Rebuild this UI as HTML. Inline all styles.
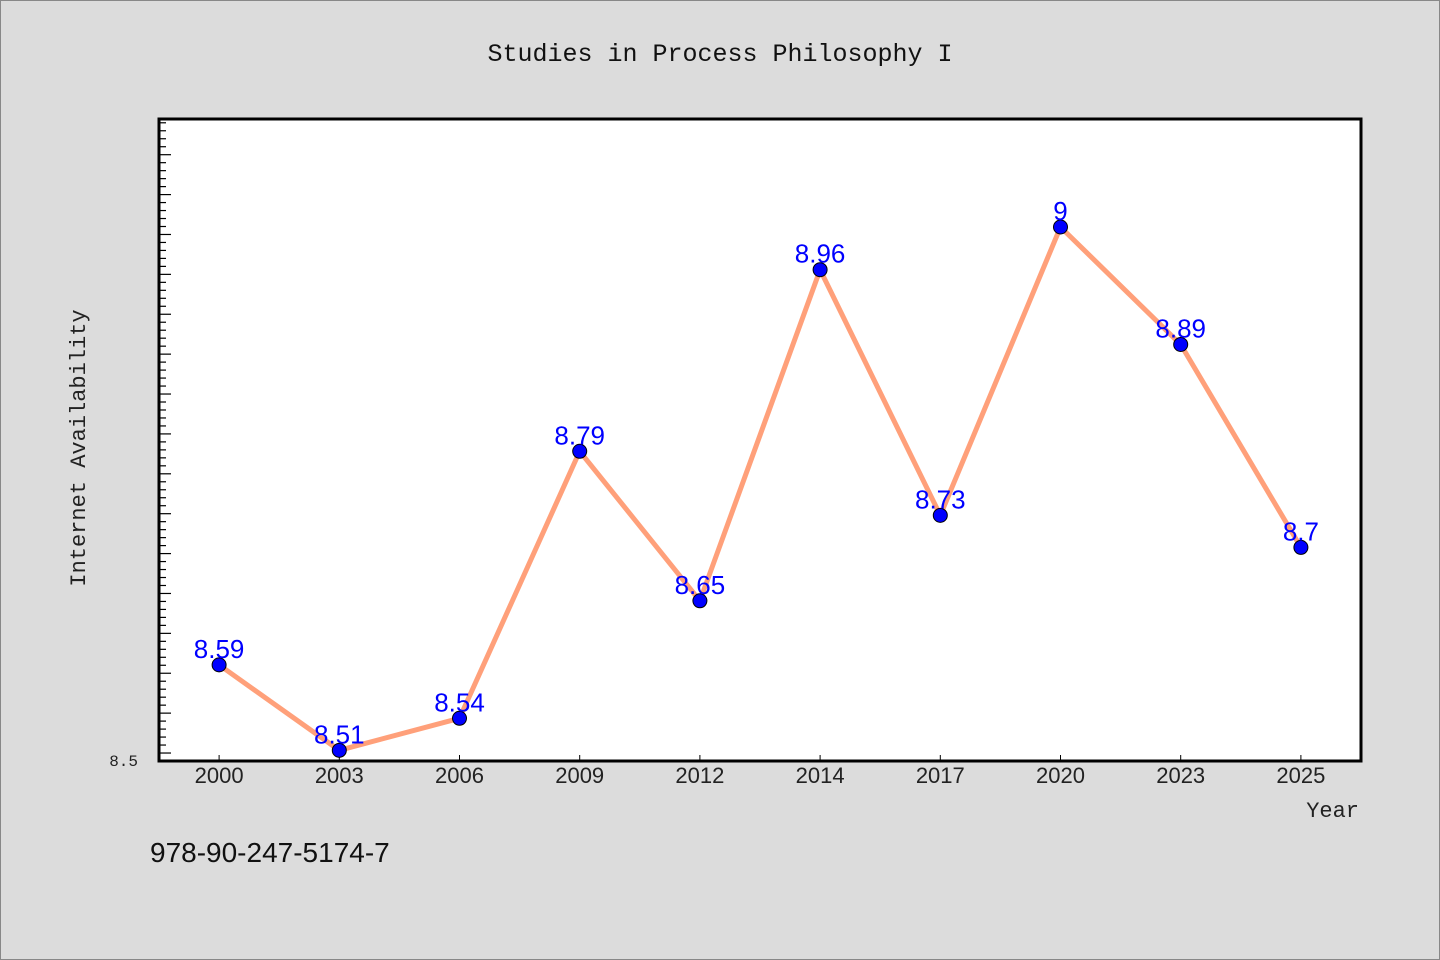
<!DOCTYPE html>
<html><head><meta charset="utf-8"><style>
html,body{margin:0;padding:0;background:#dcdcdc;}
svg{display:block;}
</style></head><body>
<svg width="1440" height="960" xmlns="http://www.w3.org/2000/svg">
<rect x="0.5" y="0.5" width="1439" height="959" fill="#dcdcdc" stroke="#888"/>
<text x="720" y="61" text-anchor="middle" font-family="Liberation Mono, monospace" font-size="25" fill="#111">Studies in Process Philosophy I</text>
<rect x="159" y="119" width="1202" height="642" fill="#fff"/>
<g id="ticks"></g>
<g id="xlabels"></g>
<polyline id="line" fill="none" stroke="#ffa07a" stroke-width="5" stroke-linejoin="round"/>
<g id="points"></g>
<rect x="159" y="119" width="1202" height="642" fill="none" stroke="#000" stroke-width="3"/>
<text x="138" y="766" text-anchor="end" font-family="Liberation Mono, monospace" font-size="16" fill="#222">8.5</text>
<text transform="translate(85,448) rotate(-90)" text-anchor="middle" font-family="Liberation Mono, monospace" font-size="22" fill="#222">Internet Availability</text>
<text x="1359" y="817" text-anchor="end" font-family="Liberation Mono, monospace" font-size="22" fill="#222">Year</text>
<text x="150" y="862" font-family="Liberation Sans, sans-serif" font-size="28" fill="#111">978-90-247-5174-7</text>
</svg>
<script>
const categories=["2000","2003","2006","2009","2012","2014","2017","2020","2023","2025"];
const values=[8.59,8.51,8.54,8.79,8.65,8.96,8.73,9,8.89,8.7];
const labels=["8.59","8.51","8.54","8.79","8.65","8.96","8.73","9","8.89","8.7"];
const NS="http://www.w3.org/2000/svg";
const L=159,T=119,W=1202,B=761;
const yMin=8.5,yPerUnit=1068;
function xs(i){return L+W/categories.length*(i+0.5);}
function ys(v){return B-(v-yMin)*yPerUnit;}
const tk=document.getElementById('ticks');
const step=(B-154.7)/76;
for(let k=0;B-k*step>T+2;k++){
  const y=B-k*step;const ln=document.createElementNS(NS,'line');
  const len=(k%5===1)?12:7;
  ln.setAttribute('x1',L);ln.setAttribute('x2',L+len);ln.setAttribute('y1',y);ln.setAttribute('y2',y);
  ln.setAttribute('stroke','#000');ln.setAttribute('stroke-width','1.2');
  
  
  tk.appendChild(ln);
}
const xl=document.getElementById('xlabels');
categories.forEach((c,i)=>{
  const x=xs(i);
  const ln=document.createElementNS(NS,'line');
  ln.setAttribute('x1',x);ln.setAttribute('x2',x);ln.setAttribute('y1',B);ln.setAttribute('y2',B-6);ln.setAttribute('stroke','#000');
  
  
  xl.appendChild(ln);
  const t=document.createElementNS(NS,'text');
  t.setAttribute('x',x);t.setAttribute('y',783);t.setAttribute('text-anchor','middle');
  t.setAttribute('font-family','Liberation Sans, sans-serif');t.setAttribute('font-size','22');t.setAttribute('fill','#222');
  t.textContent=c;
  
  
  xl.appendChild(t);
});
document.getElementById('line').setAttribute('points',values.map((v,i)=>xs(i)+','+ys(v)).join(' '));
const pg=document.getElementById('points');
values.forEach((v,i)=>{
  const c=document.createElementNS(NS,'circle');
  c.setAttribute('cx',xs(i));c.setAttribute('cy',ys(v));c.setAttribute('r',7);
  c.setAttribute('fill','#0000ff');c.setAttribute('stroke','#000');c.setAttribute('stroke-width','1');
  
  
  pg.appendChild(c);
  const t=document.createElementNS(NS,'text');
  t.setAttribute('x',xs(i));t.setAttribute('y',ys(v)-7);t.setAttribute('text-anchor','middle');
  t.setAttribute('font-family','Liberation Sans, sans-serif');t.setAttribute('font-size','26');t.setAttribute('fill','#0000ff');
  t.textContent=labels[i];
  
  
  pg.appendChild(t);
});
</script>
</body></html>
